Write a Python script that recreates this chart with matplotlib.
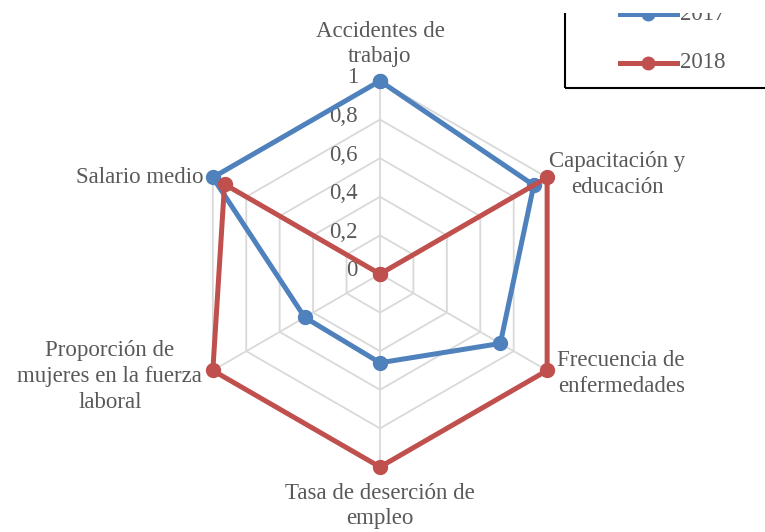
import numpy as np
import matplotlib
matplotlib.use("Agg")
import matplotlib.pyplot as plt
from matplotlib.lines import Line2D
from matplotlib.patches import Rectangle

categories = ["Accidentes de\ntrabajo", "Capacitación y\neducación", "Frecuencia de\nenfermedades",
              "Tasa de deserción de\nempleo", "Proporción de\nmujeres en la fuerza\nlaboral", "Salario medio"]
series_names = ["2017", "2018"]
values_2017 = [1.0, 0.92, 0.72, 0.46, 0.45, 1.0]
values_2018 = [0.0, 1.0, 1.0, 1.0, 1.0, 0.93]
ticks = [0, 0.2, 0.4, 0.6, 0.8, 1]
tick_labels = ["0", "0,2", "0,4", "0,6", "0,8", "1"]

blue = "#4F81BD"
red = "#C0504D"
txt = "#595959"
plt.rcParams['font.family'] = ['Liberation Serif', 'DejaVu Serif']
fs = 16.5

fig = plt.figure(figsize=(7.65, 5.32), dpi=100)
ax = fig.add_axes([0.2444, 0.1222, 0.5046, 0.7256], projection='polar')
ax.set_theta_offset(np.pi / 2)
ax.set_theta_direction(-1)
ax.set_ylim(0, 1)
ax.grid(False)
ax.spines['polar'].set_visible(False)
ax.set_xticks([])
ax.set_yticks([])
ax.patch.set_alpha(0)

n = len(categories)
ang = np.linspace(0, 2 * np.pi, n, endpoint=False)
ang_c = np.append(ang, ang[0])

# hexagon grid
for t in ticks[1:]:
    ax.plot(ang_c, [t] * (n + 1), color="#D9D9D9", lw=1.3, zorder=1, clip_on=False)
for a in ang:
    ax.plot([a, a], [0, 1], color="#D9D9D9", lw=1.3, zorder=1, clip_on=False)

for vals, c, name in [(values_2017, blue, series_names[0]), (values_2018, red, series_names[1])]:
    v = np.append(vals, vals[0])
    ax.plot(ang_c, v, color=c, lw=3.6, marker='o', ms=10, zorder=3, label=name, clip_on=False)

for t, lab in zip(ticks, tick_labels):
    ax.annotate(lab, xy=(0, t), xytext=(-22, 3), textcoords='offset pixels',
                ha='right', va='center', fontsize=fs, color=txt, zorder=2)

offsets = [(0, 37), (70, 3), (74, -3), (0, -39), (-103, -6), (-73, 0)]
for a, lab, off in zip(ang, categories, offsets):
    ax.annotate(lab, xy=(a, 1), xytext=off, textcoords='offset pixels',
                ha='center', va='center', fontsize=fs, color=txt,
                linespacing=1.3, annotation_clip=False)

# legend, partly outside the figure like the reference
W, H = 765, 532
fig.patches.append(Rectangle((565 / W, 1 - 88 / H), 0.5, 0.5, transform=fig.transFigure,
                             fill=False, edgecolor='black', lw=1.5))
for y, c, name in [(14, blue, series_names[0]), (63, red, series_names[1])]:
    fig.lines.append(Line2D([620 / W, 677 / W], [1 - y / H] * 2, transform=fig.transFigure,
                            color=c, lw=3.6))
    fig.lines.append(Line2D([648 / W], [1 - y / H], transform=fig.transFigure,
                            color=c, marker='o', ms=9, lw=0))
    fig.text(680 / W, 1 - y / H, name, fontsize=fs, color=txt, va='center', ha='left')
# the reference is cropped just above the first legend entry
fig.patches.append(Rectangle((560 / W, 1 - 13 / H), 0.5, 0.1, transform=fig.transFigure,
                             facecolor='white', edgecolor='none', zorder=10))

fig.savefig("out.png", dpi=100)
